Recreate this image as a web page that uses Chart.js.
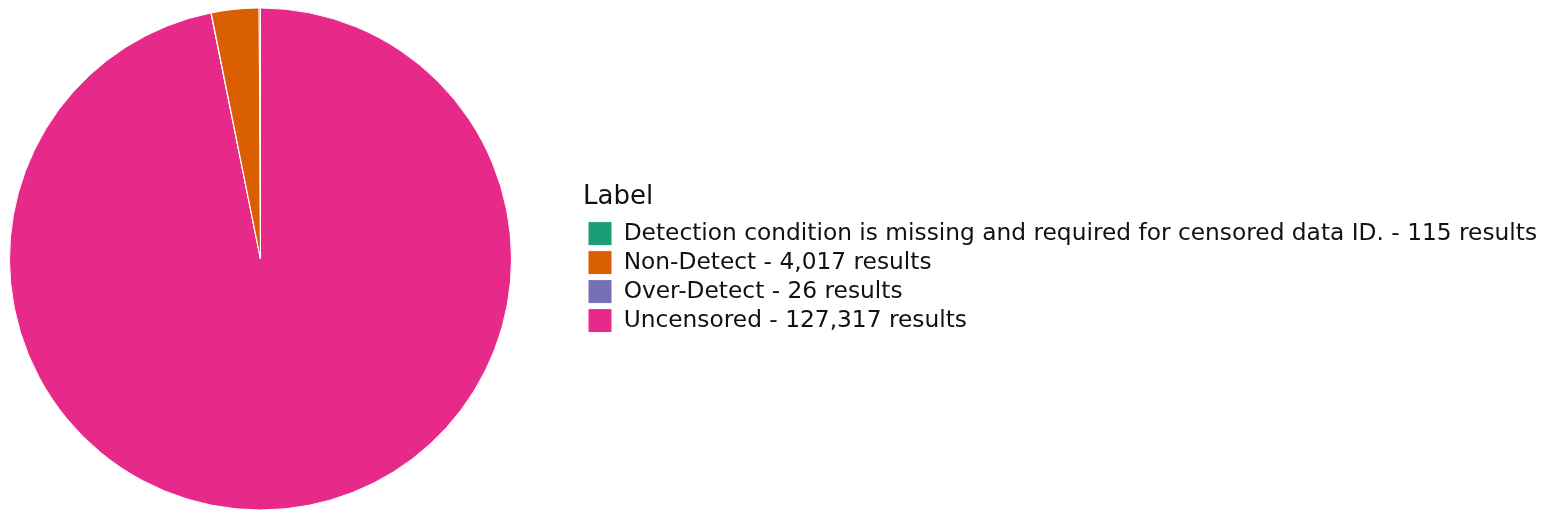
<!DOCTYPE html>
<html>
<head>
<meta charset="utf-8">
<script src="https://cdn.jsdelivr.net/npm/chart.js@4.4.1/dist/chart.umd.min.js"></script>
<style>
  html, body { margin: 0; padding: 0; background: #fff; }
  #wrap { width: 1549px; height: 520px; }
</style>
</head>
<body>
<div id="wrap"><canvas id="pieChart" width="1549" height="520"></canvas></div>
<script>
const categories = [
  'Detection condition is missing and required for censored data ID.',
  'Non-Detect',
  'Over-Detect',
  'Uncensored'
];
const resultCounts = [115, 4017, 26, 127317];
const sliceColors = ['#1b9e77', '#d95f02', '#7570b3', '#e7298a'];

// plotly draws counterclockwise from 12 o'clock, chart.js goes clockwise,
// so feed the slices in reverse and flip the legend back
const order = categories.map((c, i) => i).reverse();

const legendLabels = order.map(i => categories[i] + ' - ' + resultCounts[i].toLocaleString('en-US') + ' results');

// legend is capped at half the width by the layout, so move it and widen its clip box
const legendShift = {
  id: 'legendShift',
  afterLayout(chart) {
    const lg = chart.legend;
    lg.left = 583;
    lg.right = chart.width;
    lg.top += 2;
    lg.bottom += 2;
  }
};

const pieData = {
  labels: legendLabels,
  datasets: [{
    data: order.map(i => resultCounts[i]),
    backgroundColor: order.map(i => sliceColors[i]),
    borderColor: '#ffffff',
    borderWidth: 1
  }]
};

const pieConfig = {
  type: 'pie',
  data: pieData,
  options: {
    responsive: false,
    animation: false,
    devicePixelRatio: 1,
    layout: {
      padding: { left: 9, top: 7, bottom: 9, right: 534 }
    },
    plugins: {
      tooltip: { enabled: false },
      legend: {
        position: 'right',
        align: 'center',
        title: {
          display: true,
          text: 'Label',
          position: 'start',
          color: '#111',
          font: { family: 'DejaVu Sans', size: 26 },
          padding: { top: 0, bottom: 1 }
        },
        labels: {
          sort: (a, b) => b.index - a.index,
          boxWidth: 24,
          boxHeight: 24,
          padding: 5,
          color: '#111',
          font: { family: 'DejaVu Sans', size: 23.3 }
        }
      }
    }
  },
  plugins: [legendShift]
};

const pieChart = new Chart(document.getElementById('pieChart'), pieConfig);
</script>
</body>
</html>
